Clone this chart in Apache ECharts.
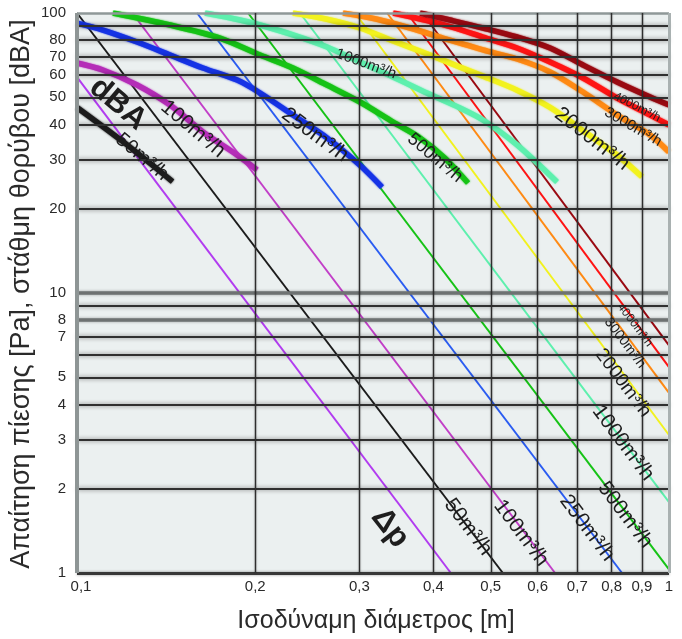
<!DOCTYPE html>
<html><head><meta charset="utf-8">
<script src="https://cdn.jsdelivr.net/npm/echarts@6/dist/echarts.min.js"></script>
<style>html,body{margin:0;padding:0;background:#fff}#c{width:682px;height:639px}</style>
</head><body><div id="c"></div>
<script>
// ---- axes / grid values ----
const xGridValues = [0.1,0.2,0.3,0.4,0.5,0.6,0.7,0.8,0.9,1];
const xTickLabels = ['0,1','0,2','0,3','0,4','0,5','0,6','0,7','0,8','0,9','1'];
const yGridValues = [1,2,3,4,5,6,7,8,9,10,20,30,40,50,60,70,80,90,100];
const yTickValues = [1,2,3,4,5,7,8,10,20,30,40,50,60,70,80,100];

// ---- pressure-drop lines (thin), [diameter m, Pa] ----
const dpViolet = [[0.1,59],[0.428,1]];
const dp50   = [[0.1,100],[0.524,1]];
const dp100  = [[0.124,100],[0.642,1]];
const dp250  = [[0.1595,100],[0.833,1]];
const dp500  = [[0.1945,100],[1,1.03]];
const dp1000 = [[0.238,100],[1,1.79]];
const dp2000 = [[0.295,100],[1,3.11]];
const dp3000 = [[0.334,100],[1,4.4]];
const dp4000 = [[0.361,100],[1,5.44]];
const dpDark = [[0.383,100],[1,6.5]];

// ---- noise level curves (thick), [diameter m, dBA] ----
const dba50   = [[0.1,46],[0.12,34.5],[0.145,25]];
const dba100  = [[0.1,66.3],[0.1106,62.6],[0.1263,55.3],[0.1436,46.9],[0.1632,37.6],[0.1864,31.1],[0.2014,27.5]];
const dba250  = [[0.1,92],[0.1106,86.9],[0.1263,78.8],[0.1436,70.8],[0.1632,63.6],[0.1864,57.6],[0.2038,51.8],[0.2316,43.2],[0.2644,35.8],[0.3006,28.6],[0.3275,23.9]];
const dba500  = [[0.115,100],[0.1436,90.6],[0.1744,81.4],[0.2038,70.8],[0.2316,63.6],[0.2644,55.3],[0.3006,48.1],[0.342,40.8],[0.3797,35.8],[0.4184,30.3],[0.4577,24.7]];
const dba1000 = [[0.1645,100],[0.1885,94.4],[0.2038,90.6],[0.2316,83.5],[0.2644,75.6],[0.3006,66.8],[0.342,59.1],[0.39,51.8],[0.4436,45.8],[0.485,41.5],[0.5537,33.8],[0.647,24.9]];
const dba2000 = [[0.2316,100],[0.2644,95],[0.3006,88.4],[0.342,79.5],[0.39,71.5],[0.4436,64.1],[0.485,59.5],[0.5537,53],[0.6296,46],[0.7157,38],[0.8171,31.1],[0.9,26]];
const dba3000 = [[0.2814,100],[0.3213,95],[0.3652,88.4],[0.4152,81.4],[0.4436,78.1],[0.485,73.8],[0.5537,68.5],[0.6296,61.6],[0.7157,52.2],[0.8171,43.2],[0.9289,36.7],[1,31.9]];
const dba4000 = [[0.342,100],[0.39,94],[0.43,89],[0.485,82],[0.5537,75],[0.6296,66.8],[0.7157,58.6],[0.8171,49.7],[0.9289,43.2],[1,39.8]];
const dbaDark = [[0.3797,100],[0.4266,94.4],[0.485,88.4],[0.5537,82.1],[0.6296,75],[0.7157,65.2],[0.8171,56.7],[0.9289,50.1],[1,46.9]];

const C = {violet:'#b23cf0', black:'#1c1c1c', magenta:'#b52db8', magentaThin:'#c23fc8', blue:'#1633e6', blueThin:'#2a5cf2',
  green:'#16c316', aqua:'#5ef0ae', yellow:'#f2f21e', orange:'#ff8a14', red:'#ff1414', dark:'#9a0a12'};

const FONT = '"Liberation Sans", Arial, Helvetica, sans-serif';

function thin(data, color){ return {type:'line', data, showSymbol:false, symbol:'none', z:3, lineStyle:{color, width:2}, silent:true}; }
function thick(data, color){ return {type:'line', data, showSymbol:false, symbol:'none', smooth:0.3, z:4, lineStyle:{color, width:5.5, shadowBlur:2, shadowColor:color}, silent:true}; }

const hLines = yGridValues.map(v => {
  let ls = {color:'#303030', width:2, type:'solid', shadowBlur:4, shadowColor:'rgba(0,0,0,0.5)'};
  if (v === 10 || v === 8) ls = {color:'#6e7272', width:3.5, type:'solid', shadowBlur:3, shadowColor:'rgba(0,0,0,0.35)'};
  if (v === 100) ls = {color:'#8f9898', width:2.5, type:'solid'};
  if (v === 1) ls = {color:'#383838', width:3, type:'solid', shadowBlur:3, shadowColor:'rgba(0,0,0,0.4)'};
  return {yAxis:v, lineStyle:ls};
});
const vLines = xGridValues.map(v => {
  let ls = {color:'#2e2e2e', width:1.4, type:'solid', shadowBlur:2, shadowColor:'rgba(0,0,0,0.35)'};
  if (v === 0.1) ls = {color:'#8e9595', width:4, type:'solid'};
  if (v === 1) ls = {color:'#a9b1b1', width:3, type:'solid'};
  return {xAxis:v, lineStyle:ls};
});

const chart = echarts.init(document.getElementById('c'), null, {renderer:'canvas'});
chart.setOption({
  animation:false,
  backgroundColor:'#ffffff',
  grid:{left:77, right:13, top:13, bottom:66, show:true, backgroundColor:'#ebf0f0', borderWidth:0},
  xAxis:{type:'log', logBase:10, min:0.1, max:1, axisLabel:{show:false}, axisTick:{show:false}, axisLine:{show:false}, splitLine:{show:false}, minorSplitLine:{show:false}},
  yAxis:{type:'log', logBase:10, min:1, max:100, axisLabel:{show:false}, axisTick:{show:false}, axisLine:{show:false}, splitLine:{show:false}},
  series:[
    {type:'line', data:[[0.1,1]], symbol:'none', showSymbol:false, z:1, lineStyle:{width:0}, silent:true,
     markLine:{silent:true, symbol:['none','none'], label:{show:false}, animation:false, data: hLines.concat(vLines)}},
    thin(dpViolet, C.violet), thin(dp50, C.black), thin(dp100, C.magentaThin), thin(dp250, C.blueThin),
    thin(dp500, C.green), thin(dp1000, C.aqua), thin(dp2000, C.yellow), thin(dp3000, C.orange),
    thin(dp4000, C.red), thin(dpDark, C.dark),
    thick(dba50, C.black), thick(dba100, C.magenta), thick(dba250, C.blue), thick(dba500, C.green),
    thick(dba1000, C.aqua), thick(dba2000, C.yellow), thick(dba3000, C.orange), thick(dba4000, C.red), thick(dbaDark, C.dark)
  ]
});

function txt(x, y, text, size, rotDeg, opts){
  opts = opts || {};
  return {type:'text', x, y, rotation: -(rotDeg||0)*Math.PI/180, z:10,
    style:{text, fill: opts.fill || '#1e1e1e', font: (opts.weight||'normal') + ' ' + size + 'px ' + FONT,
      align: opts.align || 'center', verticalAlign:'middle', textAlign: opts.align || 'center', textVerticalAlign:'middle'}};
}
const g = [];
yTickValues.forEach(v => {
  const p = chart.convertToPixel({gridIndex:0}, [0.1, v]);
  g.push(txt(p[0]-11, p[1], String(v), 15, 0, {align:'right', fill:'#2a2a2a'}));
});
xGridValues.forEach((v, i) => {
  const p = chart.convertToPixel({gridIndex:0}, [v, 1]);
  g.push(txt(p[0] + (i === 0 ? 4 : 0), p[1] + 14, xTickLabels[i], 15, 0, {fill:'#2a2a2a'}));
});
// axis titles
g.push(txt(376, 621, 'Ισοδύναμη διάμετρος [m]', 25, 0, {fill:'#2a2a2a'}));
g.push({type:'text', x:22, y:294, rotation:Math.PI/2, z:10,
  style:{text:'Απαίτηση πίεσης [Pa], στάθμη θορύβου [dBA]', fill:'#2a2a2a', font:'27px ' + FONT,
    align:'center', verticalAlign:'middle', textAlign:'center', textVerticalAlign:'middle'}});
// curve labels – noise level family
g.push(txt(118, 104, 'dBA', 31, 40, {weight:'bold'}));
g.push(txt(142, 157, '50m³/h', 20, 40));
g.push(txt(193, 129, '100m³/h', 21, 40));
g.push(txt(315, 135, '250m³/h', 21, 36));
g.push(txt(366, 64, '1000m³/h', 15, 20));
g.push(txt(435, 158, '500m³/h', 18, 40));
g.push(txt(592, 139, '2000m³/h', 21, 38));
g.push(txt(633, 127, '3000m³/h', 15, 30));
g.push(txt(637, 107, '4000m³/h', 12, 27));
// curve labels – pressure family
g.push(txt(390, 528, 'Δp', 31, 52, {weight:'bold'}));
g.push(txt(468, 527, '50m³/h', 21, 53));
g.push(txt(521, 533, '100m³/h', 21, 53));
g.push(txt(587, 528, '250m³/h', 21, 53));
g.push(txt(625, 515, '500m³/h', 21, 53));
g.push(txt(623, 443, '1000m³/h', 21, 53));
g.push(txt(623, 383, '2000m³/h', 19, 53));
g.push(txt(625, 343, '3000m³/h', 14, 53));
g.push(txt(635, 325, '4000m³/h', 12, 53));
chart.setOption({graphic: g});
</script></body></html>
